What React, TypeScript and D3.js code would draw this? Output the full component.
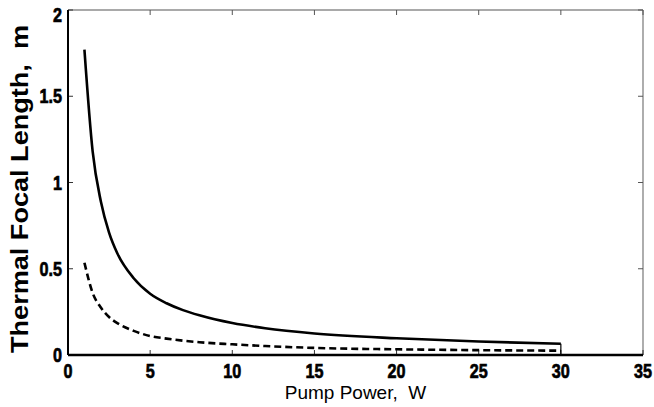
import React, { useRef, useEffect } from "react"
import * as d3 from "d3"

// pump power (W)
const power = [1, 1.5, 2, 2.5, 3, 4, 5, 6, 7, 8, 10, 12, 15, 20, 25, 30]
// thermal focal length (m), solid and dashed curves
const solidF = [1.77, 1.18, 0.89, 0.71, 0.59, 0.445, 0.355, 0.3, 0.26, 0.23, 0.185, 0.155, 0.125, 0.097, 0.078, 0.065]
const dashedF = [0.535, 0.36, 0.275, 0.22, 0.185, 0.14, 0.11, 0.095, 0.083, 0.074, 0.062, 0.052, 0.041, 0.033, 0.028, 0.025]

const xTicks = [0, 5, 10, 15, 20, 25, 30, 35]
const yTicks = [0, 0.5, 1, 1.5, 2]

const FONT = "'Liberation Sans', Arial, sans-serif"

const App = () => {
    let element = useRef<SVGSVGElement>(null)

    useEffect(() => {
        const W = 654, H = 407
        const margin = { top: 10, right: 11, bottom: 52, left: 68 }
        const width = W - margin.left - margin.right
        const height = H - margin.top - margin.bottom

        const svg = d3.select(element.current)
        svg.selectAll("*").remove()

        const g = svg.append("g")
            .attr("transform", "translate(" + margin.left + "," + margin.top + ")")

        const x = d3.scaleLinear().domain([0, 35]).range([0, width])
        const y = d3.scaleLinear().domain([0, 2]).range([height, 0])

        // box, top/right lighter
        g.append("line").attr("x1", 0).attr("x2", width).attr("y1", 0).attr("y2", 0)
            .attr("stroke", "#555").attr("stroke-width", 1.2)
        g.append("line").attr("x1", width).attr("x2", width).attr("y1", 0).attr("y2", height)
            .attr("stroke", "#777").attr("stroke-width", 1.2)

        const tickLen = 5
        xTicks.forEach(t => {
            g.append("line").attr("x1", x(t)).attr("x2", x(t)).attr("y1", height).attr("y2", height - tickLen)
                .attr("stroke", "#333").attr("stroke-width", 1)
            g.append("line").attr("x1", x(t)).attr("x2", x(t)).attr("y1", 0).attr("y2", tickLen)
                .attr("stroke", "#555").attr("stroke-width", 1)
            g.append("text")
                .attr("transform", "translate(" + x(t) + "," + (height + 23) + ") scale(0.9,1.1)")
                .attr("text-anchor", "middle")
                .attr("font-family", FONT)
                .attr("font-weight", 700).attr("font-size", 18)
                .attr("stroke", "#000").attr("stroke-width", 0.6)
                .text(t)
        })
        yTicks.forEach(t => {
            g.append("line").attr("x1", 0).attr("x2", tickLen).attr("y1", y(t)).attr("y2", y(t))
                .attr("stroke", "#333").attr("stroke-width", 1)
            g.append("line").attr("x1", width).attr("x2", width - tickLen).attr("y1", y(t)).attr("y2", y(t))
                .attr("stroke", "#555").attr("stroke-width", 1)
            // top label sits a little lower so it stays inside the page
            const yy = t === 2 ? y(t) + 5 : y(t)
            g.append("text")
                .attr("transform", "translate(-6," + yy + ") scale(0.9,1.1)")
                .attr("dy", "0.36em")
                .attr("text-anchor", "end")
                .attr("font-family", FONT)
                .attr("font-weight", 700).attr("font-size", 18)
                .attr("stroke", "#000").attr("stroke-width", 0.6)
                .text(t)
        })

        // left/bottom thick axes
        g.append("line").attr("x1", 0).attr("x2", 0).attr("y1", 0).attr("y2", height)
            .attr("stroke", "#000").attr("stroke-width", 2)
        g.append("line").attr("x1", 0).attr("x2", width).attr("y1", height).attr("y2", height)
            .attr("stroke", "#000").attr("stroke-width", 2.5)

        const line = d3.line<number>()
            .x((d, i) => x(power[i]))
            .y(d => y(d))
            .curve(d3.curveMonotoneX)

        g.append("path").datum(solidF).attr("d", line)
            .attr("fill", "none").attr("stroke", "#000").attr("stroke-width", 2.6)
        g.append("path").datum(dashedF).attr("d", line)
            .attr("fill", "none").attr("stroke", "#000").attr("stroke-width", 2.6)
            .attr("stroke-dasharray", "7,4")

        // vertical closing line at the last power value
        const last = power.length - 1
        g.append("line").attr("x1", x(power[last])).attr("x2", x(power[last]))
            .attr("y1", y(solidF[last])).attr("y2", y(0))
            .attr("stroke", "#000").attr("stroke-width", 1.2)

        // labels
        svg.append("text")
            .attr("x", margin.left + width / 2).attr("y", 399)
            .attr("text-anchor", "middle")
            .attr("font-family", FONT)
            .attr("font-size", 19)
            .attr("xml:space", "preserve")
            .text("Pump Power,  W")

        svg.append("text")
            .attr("transform", "translate(28,189) rotate(-90)")
            .attr("text-anchor", "middle")
            .attr("font-family", FONT)
            .attr("font-weight", 700).attr("font-size", 24)
            .attr("xml:space", "preserve")
            .attr("textLength", 328)
            .attr("lengthAdjust", "spacingAndGlyphs")
            .text("Thermal Focal Length,  m")
    }, [])

    return (
        <svg ref={element} width={654} height={407}
            style={{ position: "absolute", left: 0, top: 0, background: "#fff" }} />
    )
}

export default App
